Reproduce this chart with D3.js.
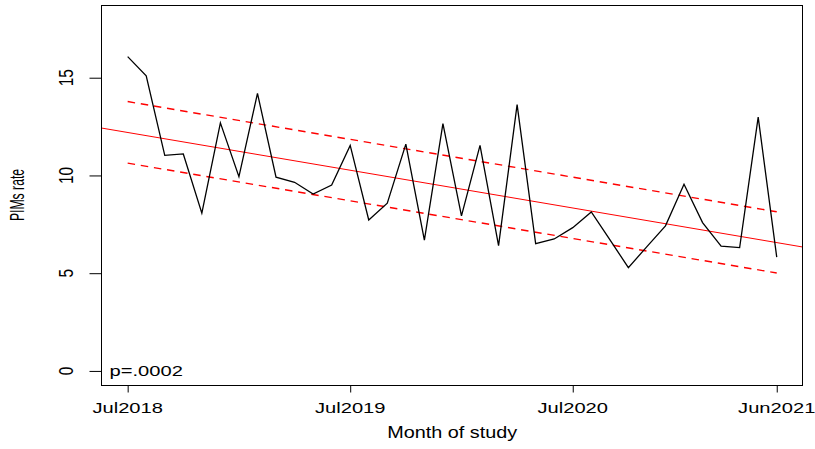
<!DOCTYPE html>
<html>
<head>
<meta charset="utf-8">
<script src="https://cdn.jsdelivr.net/npm/d3@7"></script>
<style>
  html, body { margin: 0; padding: 0; background: #fff; }
  svg { display: block; }
  text { font-family: "Liberation Sans", Arial, Helvetica, sans-serif; fill: #000; }
</style>
</head>
<body>
<svg id="chart" width="815" height="449"></svg>
<script>
// Monthly PIMs rate, Jul 2018 .. Jun 2021 (36 months)
const months = d3.range(36);
const pimsRate = [
  16.08, 15.10, 11.03, 11.10, 8.07, 12.69, 9.94, 14.20, 9.91, 9.65, 9.05, 9.51,
  11.54, 7.72, 8.58, 11.60, 6.69, 12.65, 7.93, 11.54, 6.41, 13.62, 6.51, 6.75,
  7.33, 8.13, 6.72, 5.28, 6.36, 7.42, 9.55, 7.59, 6.38, 6.31, 12.98, 5.82
];

// Band around the fitted trend, at the first and last month
const bandUpper = [13.78, 8.14];
const bandLower = [10.63, 5.01];

// Axis ticks
const xTickMonths = [0, 12, 24, 35];
const xTickLabels = ["Jul2018", "Jul2019", "Jul2020", "Jun2021"];
const yTicks = [0, 5, 10, 15];

const pValueText = "p=.0002";
const xTitle = "Month of study";
const yTitle = "PIMs rate";

const svg = d3.select("#chart");
svg.append("rect").attr("width", 815).attr("height", 449).attr("fill", "#fff");

// R-style axis limits: data range padded by 4% on each side
const x = d3.scaleLinear().domain([-1.4, 36.4]).range([101.7, 802.7]);
const y = d3.scaleLinear().domain([-0.72, 18.72]).range([385, 5]);

// Least-squares trend line
const mx = d3.mean(months), my = d3.mean(pimsRate);
const sxy = d3.sum(months, (m, i) => (m - mx) * (pimsRate[i] - my));
const sxx = d3.sum(months, m => (m - mx) * (m - mx));
const slope = sxy / sxx;
const intercept = my - slope * mx;

const plot = svg.append("g");
const clipId = "plotclip";
svg.append("clipPath").attr("id", clipId)
  .append("rect").attr("x", x.range()[0]).attr("y", 5)
  .attr("width", x.range()[1] - x.range()[0]).attr("height", 380);

// Trend line across the full plot region
const xd = x.domain();
plot.append("line")
  .attr("clip-path", `url(#${clipId})`)
  .attr("x1", x(xd[0])).attr("y1", y(intercept + slope * xd[0]))
  .attr("x2", x(xd[1])).attr("y2", y(intercept + slope * xd[1]))
  .attr("stroke", "#ff0000").attr("stroke-width", 1);

// Dashed band lines from first to last month
const firstM = months[0], lastM = months[months.length - 1];
[bandUpper, bandLower].forEach(b => {
  plot.append("line")
    .attr("x1", x(firstM)).attr("y1", y(b[0]))
    .attr("x2", x(lastM)).attr("y2", y(b[1]))
    .attr("stroke", "#ff0000").attr("stroke-width", 1.4)
    .attr("stroke-dasharray", "7.5,5.8");
});

// Observed monthly series
const line = d3.line().x((d, i) => x(months[i])).y(d => y(d));
plot.append("path")
  .datum(pimsRate)
  .attr("d", line)
  .attr("fill", "none")
  .attr("stroke", "#000")
  .attr("stroke-width", 1.3)
  .attr("stroke-linejoin", "miter");

// Plot frame
svg.append("rect")
  .attr("x", 101.5).attr("y", 5.5)
  .attr("width", 802.5 - 101.5).attr("height", 385.5 - 5.5)
  .attr("fill", "none").attr("stroke", "#000").attr("stroke-width", 1);

// X axis
const xAxis = d3.axisBottom(x)
  .tickValues(xTickMonths)
  .tickSizeOuter(0)
  .tickSizeInner(7)
  .tickFormat("");
const gx = svg.append("g").attr("transform", "translate(0,385.5)").call(xAxis);
gx.select(".domain").remove();
gx.selectAll(".tick line").attr("stroke", "#000");

const FS = 15.5, SX = 1.3;
xTickMonths.forEach((m, i) => {
  svg.append("g")
    .attr("transform", `translate(${x(m)},412.5) scale(${SX},1)`)
    .append("text")
    .attr("text-anchor", "middle")
    .attr("font-size", FS)
    .text(xTickLabels[i]);
});

// Y axis
const yAxis = d3.axisLeft(y)
  .tickValues(yTicks)
  .tickSizeOuter(0)
  .tickSizeInner(12)
  .tickFormat("");
const gy = svg.append("g").attr("transform", "translate(101.5,0)").call(yAxis);
gy.select(".domain").remove();
gy.selectAll(".tick line").attr("stroke", "#000");

yTicks.forEach(v => {
  svg.append("g")
    .attr("transform", `translate(72.7,${y(v)}) rotate(-90) scale(1,${SX})`)
    .append("text")
    .attr("text-anchor", "middle")
    .attr("font-size", FS)
    .text(v);
});

// Axis titles
svg.append("g")
  .attr("transform", `translate(${(x.range()[0] + x.range()[1]) / 2},438.3) scale(1.24,1)`)
  .append("text")
  .attr("text-anchor", "middle")
  .attr("font-size", 16)
  .text(xTitle);

svg.append("g")
  .attr("transform", "translate(24,195) rotate(-90) scale(1,1.72)")
  .append("text")
  .attr("text-anchor", "middle")
  .attr("font-size", 12.2)
  .text(yTitle);

// p-value annotation
svg.append("g")
  .attr("transform", `translate(109.5,375.7) scale(${SX},1)`)
  .append("text")
  .attr("text-anchor", "start")
  .attr("font-size", FS)
  .text(pValueText);
</script>
</body>
</html>
